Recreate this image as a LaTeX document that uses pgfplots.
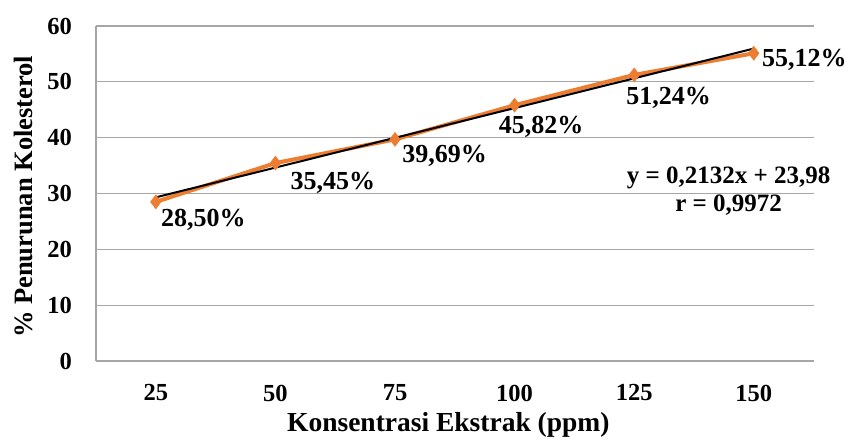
\documentclass[border=0pt]{standalone}
\usepackage{fontspec}
\setmainfont{Liberation Serif}
\usepackage{pgfplots}
\pgfplotsset{compat=1.18}
\definecolor{xlorange}{HTML}{ED7D31}
\definecolor{gridgray}{HTML}{A6A6A6}
\begin{document}
\begin{tikzpicture}[x=1pt,y=1pt]
\useasboundingbox (-96,-83) rectangle (753,361);
\begin{axis}[
  at={(0,0)}, anchor=south west,
  scale only axis, width=717.6pt, height=335pt,
  xmin=-0.5, xmax=5.5, ymin=0, ymax=60,
  xtick={0,...,5}, xticklabels={25,50,75,100,125,150},
  ytick={0,10,...,60},
  ymajorgrids,
  major grid style={gridgray, line width=1.2pt},
  axis x line*=bottom, axis y line*=left,
  axis line style={gridgray, line width=1.2pt},
  major tick length=0pt,
  clip=false,
  /pgf/number format/assume math mode=true,
  ticklabel style={font=\fontsize{24.5}{24.5}\selectfont\bfseries, inner sep=0pt},
  xticklabel style={anchor=center, yshift=-32pt},
  yticklabel style={anchor=east, xshift=-24pt},
  every axis x label/.style={at={(axis description cs:0.491,-0.191)}, anchor=center},
  every axis y label/.style={at={(axis description cs:-0.1017,0.49)}, rotate=90, anchor=center},
  xlabel style={font=\fontsize{27.5}{27.5}\selectfont\bfseries},
  ylabel style={font=\fontsize{26.5}{26.5}\selectfont\bfseries},
  xlabel={Konsentrasi Ekstrak (ppm)},
  ylabel={\% Penurunan Kolesterol},
]
\addplot[xlorange, line width=4pt, mark=diamond*, mark size=7pt,
  mark options={solid, line width=0.5pt, fill=xlorange}]
  coordinates {(0,28.50)(1,35.45)(2,39.69)(3,45.82)(4,51.24)(5,55.12)};
\addplot[black, line width=2pt] coordinates {(0,29.31)(5,55.96)};
\tikzset{lbl/.style={font=\fontsize{26}{26}\selectfont\bfseries, anchor=center, inner sep=0pt}}
\node[lbl, xshift=47.5pt, yshift=-18pt] at (axis cs:0,28.50) {28,50\%};
\node[lbl, xshift=57.5pt, yshift=-20pt] at (axis cs:1,35.45) {35,45\%};
\node[lbl, xshift=49.5pt, yshift=-16pt] at (axis cs:2,39.69) {39,69\%};
\node[lbl, xshift=26.5pt, yshift=-22pt] at (axis cs:3,45.82) {45,82\%};
\node[lbl, xshift=34.5pt, yshift=-23pt] at (axis cs:4,51.24) {51,24\%};
\node[lbl, xshift=50.5pt, yshift=-7pt] at (axis cs:5,55.12) {55,12\%};
\node[font=\fontsize{25}{28}\selectfont\bfseries, align=center, anchor=center, inner sep=0pt]
  at (axis cs:4.79,30.45) {y = 0,2132x + 23,98\\r = 0,9972};
\end{axis}
\end{tikzpicture}
\end{document}
